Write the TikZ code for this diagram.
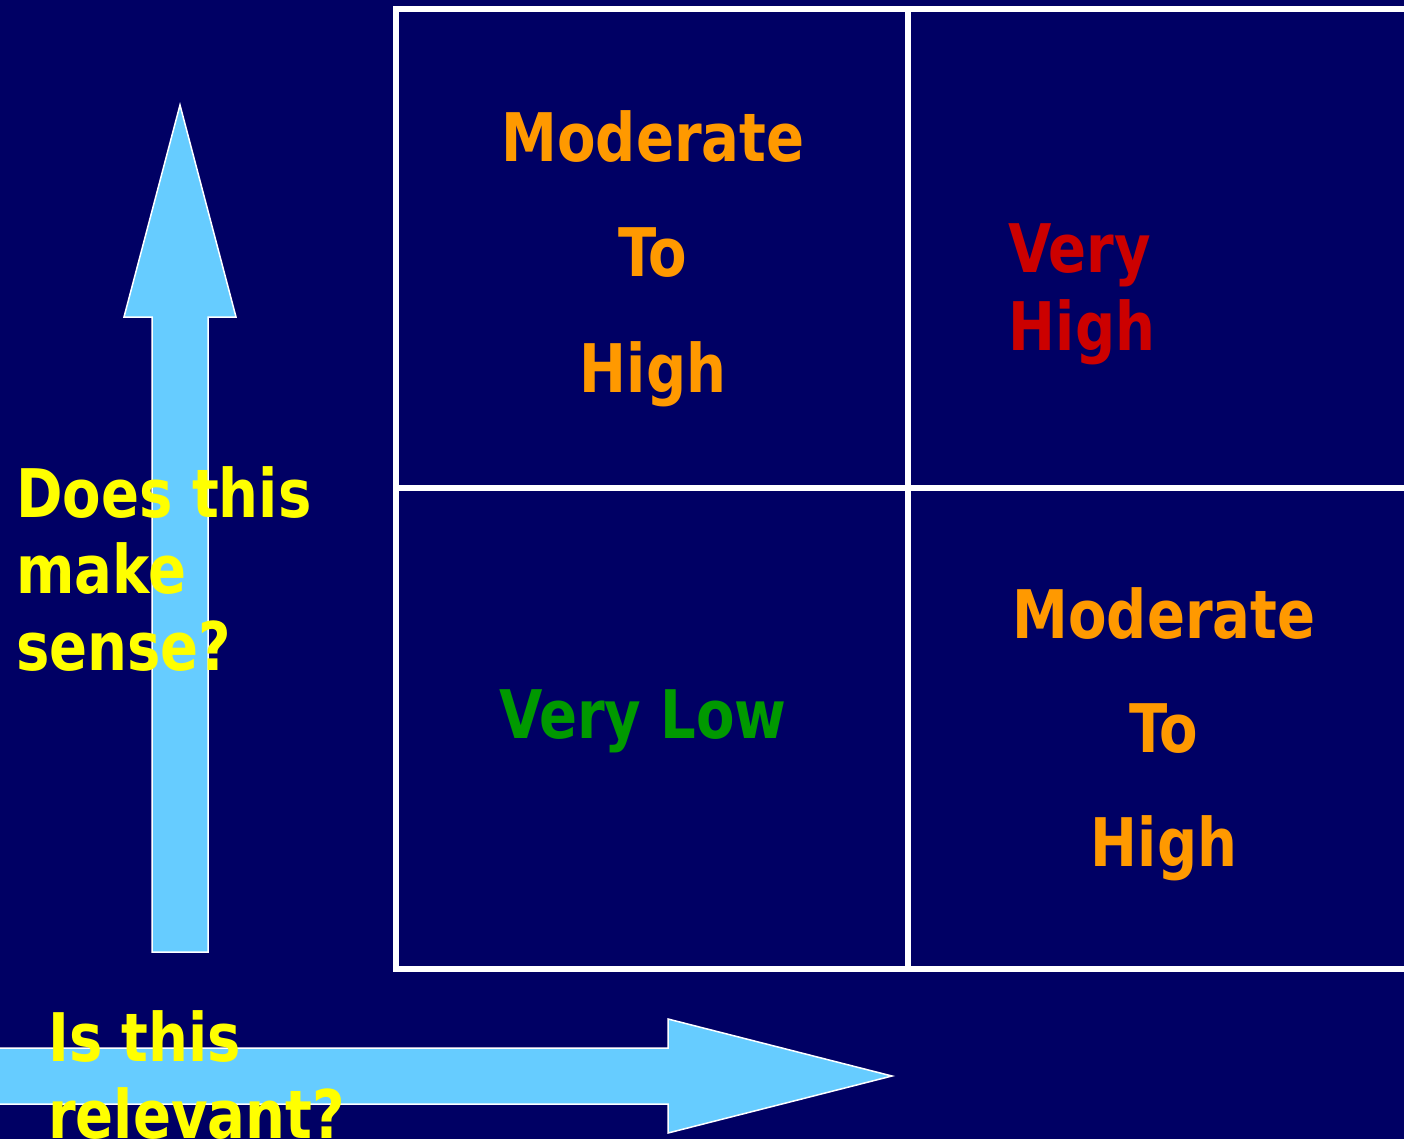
\documentclass[tikz,border=0pt]{standalone}
\usepackage{fontspec}
\setmainfont{DejaVu Sans Condensed}[FakeStretch=0.93]
\usepackage{xcolor}
\usepackage{tikz}

\definecolor{navy}{RGB}{0,0,100}
\definecolor{skyblue}{RGB}{102,204,255}
\definecolor{amber}{RGB}{255,153,0}
\definecolor{crimson}{RGB}{204,0,0}
\definecolor{leaf}{RGB}{0,153,0}
\definecolor{lemon}{RGB}{255,255,0}

\begin{document}
\begin{tikzpicture}[
    x=1pt, y=-1pt,
    word/.style={font=\fontsize{67}{80}\selectfont\bfseries,
                 inner sep=0pt, anchor=base},
    axislbl/.style={word, text=lemon, anchor=base west},
    gridline/.style={draw=white, line width=6pt},
    bigarrow/.style={fill=skyblue, draw=white, line width=1.5pt},
  ]

  % -- Frame
  \clip (0,0) rectangle (1404,1139);
  \fill[navy] (0,0) rectangle (1404,1139);

  % -- 2x2 grid
  \draw[gridline] (396,9) rectangle (1420,969);
  \draw[gridline] (908,9) -- (908,969);
  \draw[gridline] (396,488) -- (1420,488);

  % -- Axis arrows
  \draw[bigarrow] (152,952) -- (152,317) -- (124,317) -- (180,105)
    -- (236,317) -- (208,317) -- (208,952) -- cycle;
  \draw[bigarrow] (-10,1048) -- (668,1048) -- (668,1019) -- (892,1076)
    -- (668,1133) -- (668,1104) -- (-10,1104) -- cycle;

  % -- Top left cell
  \node[word, text=amber] (tlA) at (653,162) {Moderate};
  \node[word, text=amber] (tlB) at (653,277) {To};
  \node[word, text=amber] (tlC) at (653,392) {High};

  % -- Top right cell
  \node[word, text=crimson] (trA) at (1080,273) {Very};
  \node[word, text=crimson] (trB) at (1082,350) {High};

  % -- Bottom left cell
  \node[word, text=leaf] (bl) at (643,738) {Very Low};

  % -- Bottom right cell
  \node[word, text=amber] (brA) at (1164,638) {Moderate};
  \node[word, text=amber] (brB) at (1164,752) {To};
  \node[word, text=amber] (brC) at (1164,866) {High};

  % -- Axis labels
  \node[axislbl] (yA) at (16,517) {Does this};
  \node[axislbl] (yB) at (16,593) {make};
  \node[axislbl] (yC) at (16,670) {sense?};
  \node[axislbl] (xA) at (48,1061) {Is this};
  \node[axislbl] (xB) at (48,1138) {relevant?};

\end{tikzpicture}
\end{document}
